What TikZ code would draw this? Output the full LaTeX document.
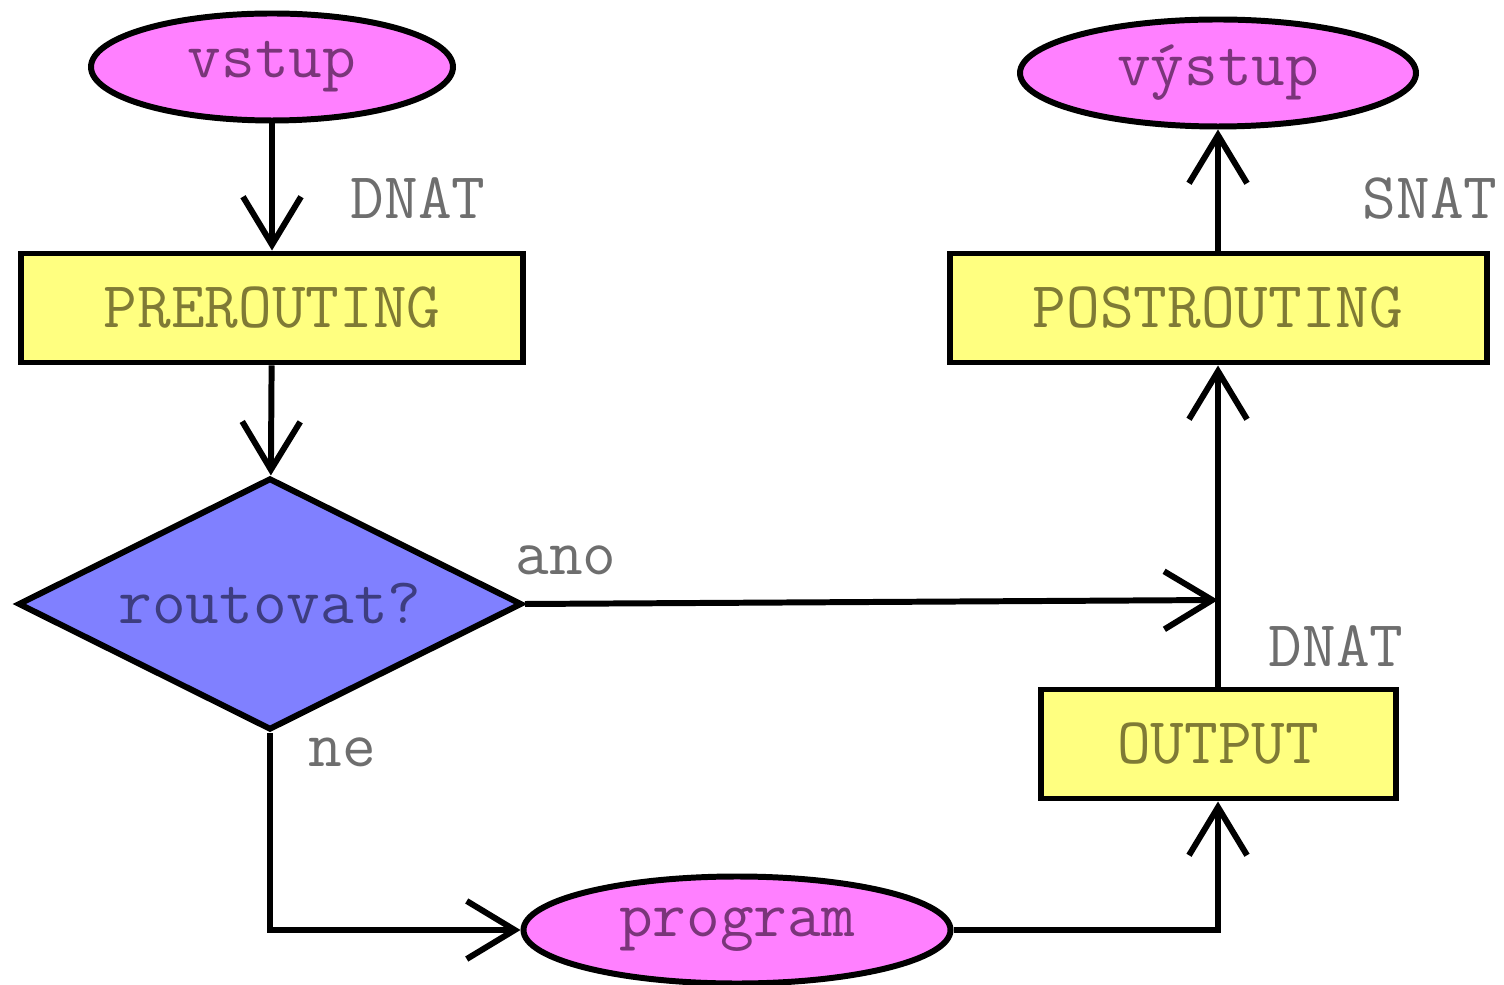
\documentclass[tikz,border=0pt]{standalone}
\usepackage{fontspec}
\usetikzlibrary{shapes.geometric,arrows.meta}
\definecolor{termfill}{HTML}{FF80FF}
\definecolor{chainfill}{HTML}{FFFF80}
\definecolor{choicefill}{HTML}{8080FF}
\definecolor{termtext}{HTML}{7A357A}
\definecolor{chaintext}{HTML}{7F7A35}
\definecolor{choicetext}{HTML}{3D3D80}
\definecolor{lbltext}{HTML}{6E6E6E}
\tikzset{
  every node/.style={font=\ttfamily\fontsize{18.6}{20}\selectfont},
  term/.style={ellipse, draw, line width=1.7pt, fill=termfill, text=termtext, inner sep=0pt, minimum height=1.07cm},
  chain/.style={rectangle, draw, line width=1.7pt, fill=chainfill, text=chaintext, inner sep=0pt, minimum height=1.09cm},
  choice/.style={diamond, aspect=3, draw, line width=1.7pt, fill=choicefill, text=choicetext, inner sep=0pt, minimum width=5.04cm, minimum height=2.52cm},
  lbl/.style={text=lbltext, inner sep=0pt},
  flow/.style={line width=1.7pt, -{Straight Barb[length=4.8mm, width=5.8mm, line width=1.7pt]}},
  wire/.style={line width=1.7pt}
}
\begin{document}
\begin{tikzpicture}
\useasboundingbox (0,0) rectangle (15.04,-9.85);
\node[term, minimum width=3.62cm] (vstup) at (2.72,-0.67){vstup};
\node[term, minimum width=3.96cm] (vystup) at (12.18,-0.73){výstup};
\node[term, minimum width=4.27cm] (program) at (7.37,-9.30){program};
\node[chain, minimum width=5.02cm] (prerouting) at (2.72,-3.08){PREROUTING};
\node[chain, minimum width=5.37cm] (postrouting) at (12.18,-3.08){POSTROUTING};
\node[chain, minimum width=3.55cm] (output) at (12.18,-7.44){OUTPUT};
\node[choice] (routovat) at (2.70,-6.04){routovat?};
\coordinate (merge) at (12.18,-6.00);
\node[lbl] (dnat1) at (4.18,-1.98){DNAT};
\node[lbl] (snat) at (14.30,-1.98){SNAT};
\node[lbl] (ano) at (5.66,-5.60){ano};
\node[lbl] (ne) at (3.42,-7.52){ne};
\node[lbl] (dnat2) at (13.36,-6.46){DNAT};
% vstup -> routing
\draw[flow] (vstup) -- (prerouting);
\draw[flow] (prerouting) -- (routovat);
\draw[flow] (routovat.east) -- (merge);
\draw[flow] (routovat.south) |- (program.west);
% local program -> ven
\draw[flow] (program.east) -| (output.south);
\draw[wire] (output.north) -- (merge);
\draw[flow] (merge) -- (postrouting.south);
\draw[flow] (postrouting) -- (vystup);
\end{tikzpicture}
\end{document}
